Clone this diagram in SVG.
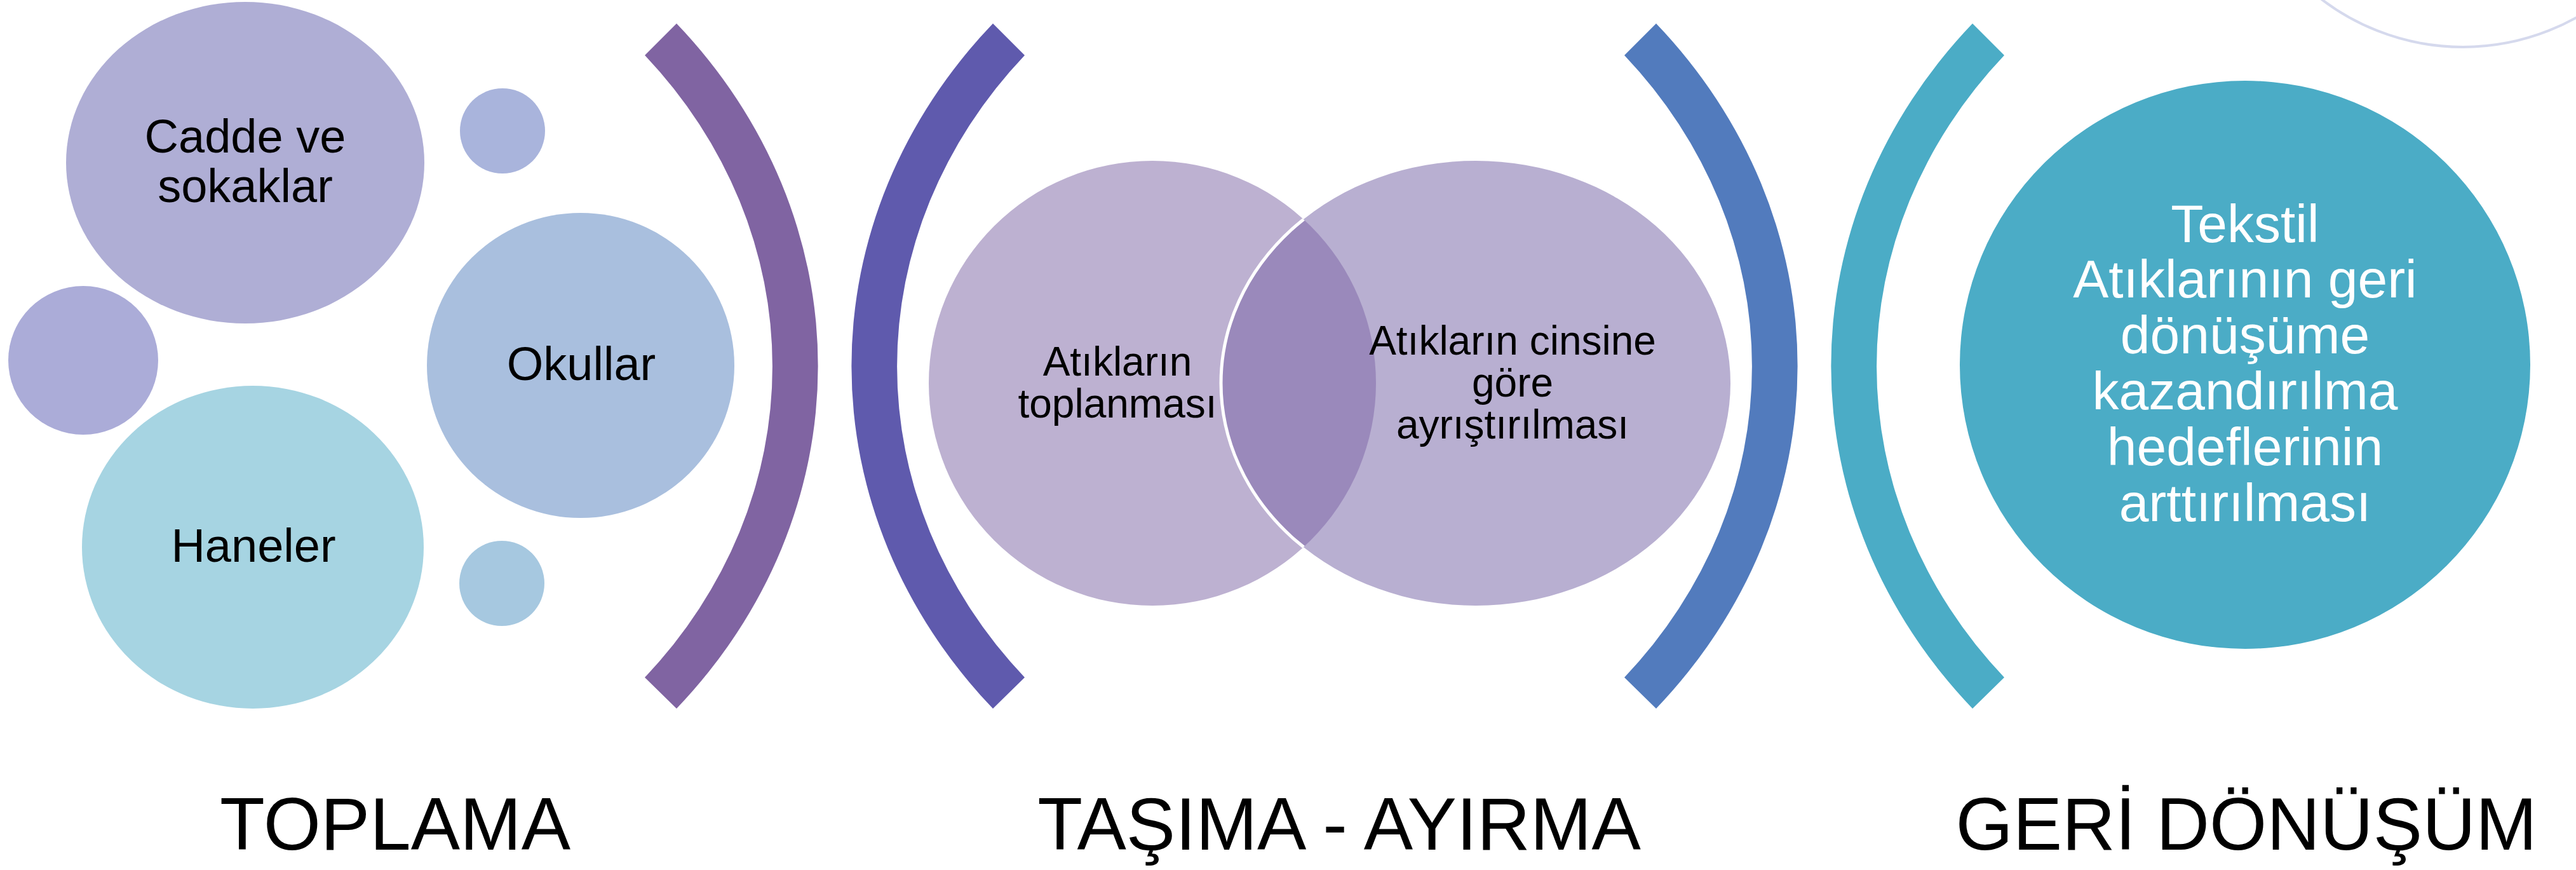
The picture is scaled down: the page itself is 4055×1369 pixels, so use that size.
<svg xmlns="http://www.w3.org/2000/svg" width="4055" height="1369" viewBox="0 0 4055 1369">
<defs>
<style>
text{font-family:"Liberation Sans",Arial,sans-serif;text-anchor:middle;}
.t1{font-size:74px;fill:#000;}
.t2{font-size:64px;fill:#000;}
.t3{font-size:84px;fill:#fff;}
.lbl{font-size:116px;fill:#000;}
</style>
<clipPath id="clipRight"><ellipse cx="2323" cy="603" rx="401" ry="350"/></clipPath>
<clipPath id="clipLeft"><ellipse cx="1814" cy="603" rx="352" ry="350"/></clipPath>
</defs>
<rect width="4055" height="1369" fill="#fff"/>
<circle id="deco" cx="3877" cy="-293" r="367" fill="none" stroke="#d5d9ed" stroke-width="4"/>

<g id="brackets">
<path d="M 1065 37 A 919 826 0 0 1 1065 1115 L 1015 1066 A 847 757 0 0 0 1015 87 Z" fill="#8064a2"/>
<path d="M 1563 37 A 919 826 0 0 0 1563 1115 L 1613 1066 A 847 757 0 0 1 1613 87 Z" fill="#5f5aad"/>
<path d="M 2607 37 A 919 826 0 0 1 2607 1115 L 2557 1066 A 847 757 0 0 0 2557 87 Z" fill="#527bbd"/>
<path d="M 3105 37 A 919 826 0 0 0 3105 1115 L 3155 1066 A 847 757 0 0 1 3155 87 Z" fill="#4bacc6"/>
</g>

<g id="small-top"><ellipse cx="791" cy="206" rx="67" ry="67" fill="#a9b4dc"/></g>
<g id="small-left"><ellipse cx="131" cy="567" rx="118" ry="117" fill="#abacd8"/></g>
<g id="small-bottom"><ellipse cx="790" cy="918" rx="67" ry="67" fill="#a6c8e0"/></g>
<g id="cadde">
<ellipse cx="386" cy="256" rx="282" ry="253" fill="#afaed5"/>
<text class="t1" x="386" y="240">Cadde ve</text>
<text class="t1" x="386" y="318">sokaklar</text>
</g>
<g id="okullar">
<ellipse cx="914" cy="575" rx="242" ry="240" fill="#a9bfde"/>
<text class="t1" x="915" y="598">Okullar</text>
</g>
<g id="haneler">
<ellipse cx="398" cy="861" rx="269" ry="254" fill="#a6d4e2"/>
<text class="t1" x="399" y="884">Haneler</text>
</g>

<g id="venn">
<g id="toplanmasi">
<ellipse cx="1814" cy="603" rx="352" ry="350" fill="#bdb1d1"/>
</g>
<g id="ayristirilmasi">
<ellipse cx="2323" cy="603" rx="401" ry="350" fill="#b8afd1"/>
</g>
<ellipse cx="1814" cy="603" rx="352" ry="350" fill="#9a89bb" clip-path="url(#clipRight)"/>
<ellipse cx="2323" cy="603" rx="401" ry="350" fill="none" stroke="#fff" stroke-width="5" clip-path="url(#clipLeft)"/>
<text class="t2" x="1759" y="591">Atıkların</text>
<text class="t2" x="1759" y="657">toplanması</text>
<text class="t2" x="2381" y="558">Atıkların cinsine</text>
<text class="t2" x="2381" y="624">göre</text>
<text class="t2" x="2381" y="690">ayrıştırılması</text>
</g>

<g id="geri-donusum-hedef">
<ellipse cx="3534" cy="574" rx="449" ry="447" fill="#4bacc6"/>
<text class="t3" x="3534" y="381">Tekstil</text>
<text class="t3" x="3534" y="468">Atıklarının geri</text>
<text class="t3" x="3534" y="556">dönüşüme</text>
<text class="t3" x="3534" y="644">kazandırılma</text>
<text class="t3" x="3534" y="732">hedeflerinin</text>
<text class="t3" x="3534" y="820">arttırılması</text>
</g>

<g id="labels">
<text class="lbl" x="622" y="1337">TOPLAMA</text>
<text class="lbl" x="2108" y="1337">TAŞIMA - AYIRMA</text>
<text class="lbl" x="3536" y="1337">GERİ DÖNÜŞÜM</text>
</g>
</svg>
